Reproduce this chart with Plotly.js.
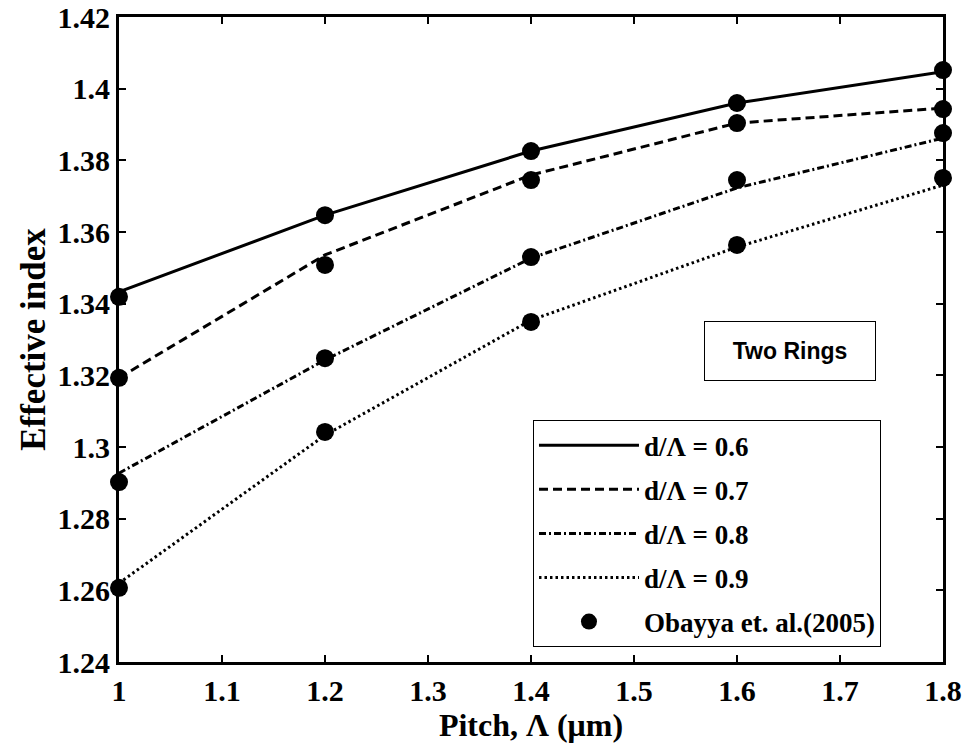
<!DOCTYPE html>
<html>
<head>
<meta charset="utf-8">
<script src="https://cdn.plot.ly/plotly-3.0.1.min.js"></script>
<style>html,body{margin:0;padding:0;background:#fff;}#chart{width:967px;height:743px;}</style>
</head>
<body>
<div id="chart"></div>
<script>
// Pitch values (µm)
const pitch = [1.0, 1.2, 1.4, 1.6, 1.8];

// Simulated curves (lines)
const line06 = [1.3433, 1.3647, 1.3826, 1.3960, 1.4047];
const line07 = [1.3193, 1.3536, 1.3759, 1.3904, 1.3946];
const line08 = [1.2927, 1.3243, 1.3527, 1.3723, 1.3862];
const line09 = [1.2620, 1.3033, 1.3354, 1.3558, 1.3731];

// Obayya et. al. (2005) reference points (markers)
const obayya06 = [1.3419, 1.3647, 1.3826, 1.3960, 1.4052];
const obayya07 = [1.3193, 1.3508, 1.3745, 1.3904, 1.3943];
const obayya08 = [1.2902, 1.3248, 1.3530, 1.3745, 1.3876];
const obayya09 = [1.2607, 1.3042, 1.3349, 1.3564, 1.3751];

const seriesNames = ['d/Λ = 0.6', 'd/Λ = 0.7', 'd/Λ = 0.8', 'd/Λ = 0.9'];
const markerName = 'Obayya et. al.(2005)';

const xTicks = [1, 1.1, 1.2, 1.3, 1.4, 1.5, 1.6, 1.7, 1.8];
const xTickText = ['1', '1.1', '1.2', '1.3', '1.4', '1.5', '1.6', '1.7', '1.8'];
const yTicks = [1.24, 1.26, 1.28, 1.30, 1.32, 1.34, 1.36, 1.38, 1.40, 1.42];
const yTickText = ['1.24', '1.26', '1.28', '1.3', '1.32', '1.34', '1.36', '1.38', '1.4', '1.42'];

const lineSets = [line06, line07, line08, line09];
const markerSets = [obayya06, obayya07, obayya08, obayya09];
const dashes = ['solid', '9px,5px', '7px,3px,2px,3px', '2.5px,3px'];

const traces = [];
lineSets.forEach((ys, i) => {
  traces.push({
    x: pitch, y: ys, type: 'scatter', mode: 'lines',
    name: seriesNames[i], legendgroup: 'g' + i,
    line: {color: '#000', width: 3, dash: dashes[i]},
    hoverinfo: 'x+y'
  });
});
markerSets.forEach((ys, i) => {
  traces.push({
    x: pitch, y: ys, type: 'scatter', mode: 'markers',
    name: markerName, legendgroup: 'm',
    showlegend: i === 0,
    marker: {color: '#000', size: 18, symbol: 'circle'},
    cliponaxis: false,
    hoverinfo: 'x+y'
  });
});

const serif = 'Liberation Serif, Times New Roman, serif';

const layout = {
  width: 967, height: 743,
  margin: {l: 119, r: 24, t: 17, b: 81},
  paper_bgcolor: '#fff', plot_bgcolor: '#fff',
  showlegend: true,
  xaxis: {
    range: [1, 1.8],
    tickvals: xTicks, ticktext: xTickText,
    ticks: 'inside', ticklen: 7, tickwidth: 2, tickcolor: '#000',
    showline: true, linecolor: '#000', linewidth: 3, mirror: 'ticks',
    showgrid: false, zeroline: false,
    tickfont: {family: serif, size: 30, color: '#000', weight: 'bold'},
    title: {text: 'Pitch, Λ (μm)', font: {family: serif, size: 32, color: '#000', weight: 'bold'}, standoff: 4}
  },
  yaxis: {
    range: [1.24, 1.42],
    tickvals: yTicks, ticktext: yTickText,
    ticks: 'inside', ticklen: 7, tickwidth: 2, tickcolor: '#000',
    showline: true, linecolor: '#000', linewidth: 3, mirror: 'ticks',
    showgrid: false, zeroline: false,
    tickfont: {family: serif, size: 30, color: '#000', weight: 'bold'},
    title: {text: 'Effective index', font: {family: serif, size: 35, color: '#000', weight: 'bold'}, standoff: 2}
  },
  legend: {
    x: 0.5024, y: 0.375, xanchor: 'left', yanchor: 'top',
    bgcolor: '#fff', bordercolor: '#000', borderwidth: 1,
    font: {family: serif, size: 27, color: '#000', weight: 'bold'},
    traceorder: 'grouped', tracegroupgap: 6,
    itemwidth: 100
  },
  annotations: [{
    xref: 'paper', yref: 'paper', x: 0.814, y: 0.482,
    xanchor: 'center', yanchor: 'middle', showarrow: false,
    text: 'Two Rings',
    font: {family: 'Liberation Sans, Arial, sans-serif', size: 23, color: '#000', weight: 'bold'},
    bordercolor: '#000', borderwidth: 1, bgcolor: '#fff',
    width: 168, height: 56
  }]
};

Plotly.newPlot('chart', traces, layout, {displayModeBar: false, staticPlot: true});
</script>
</body>
</html>
